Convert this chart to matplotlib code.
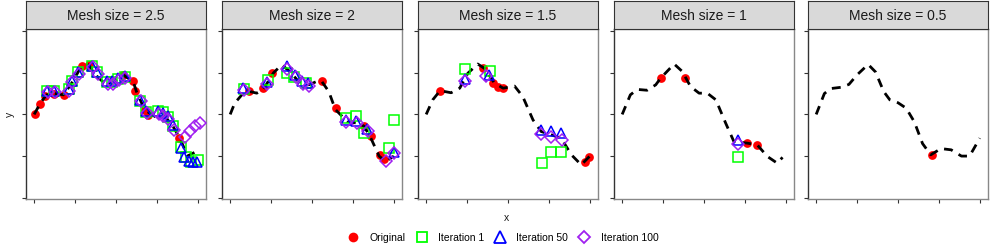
import matplotlib
matplotlib.use("Agg")
import matplotlib.pyplot as plt
from matplotlib.lines import Line2D

plt.rcParams['font.family'] = ['Liberation Sans', 'DejaVu Sans']

mesh_sizes = ["2.5", "2", "1.5", "1", "0.5"]

# dashed reference curve, one per panel
curve_x_25 = [0, 0.15, 0.3, 0.5, 0.72, 0.95, 1.15, 1.33, 1.55, 1.75, 1.95, 2.17, 2.42, 2.5, 2.7, 2.95, 3.2, 3.4, 3.56, 3.75, 4.0]
curve_y_25 = [2.0, 2.27, 2.47, 2.5, 2.47, 2.8, 3.15, 3.19, 2.9, 2.72, 2.78, 2.95, 2.79, 2.55, 2.11, 1.95, 1.95, 1.7, 1.43, 1.0, 1.13]
curve_x_2 = [0, 0.11, 0.32, 0.48, 0.65, 0.81, 1.06, 1.26, 1.47, 1.67, 1.92, 2.16, 2.24, 2.41, 2.57, 2.86, 3.11, 3.27, 3.43, 3.64, 3.8, 4.0]
curve_y_2 = [2.0, 2.27, 2.51, 2.55, 2.51, 2.6, 3.0, 3.19, 3.02, 2.79, 2.71, 2.81, 2.79, 2.55, 2.12, 1.83, 1.79, 1.72, 1.45, 1.0, 0.87, 1.0]
curve_x_15 = [0, 0.16, 0.34, 0.61, 0.82, 1.02, 1.26, 1.43, 1.67, 1.88, 2.16, 2.36, 2.61, 2.81, 3.3, 3.55, 3.79, 3.99]
curve_y_15 = [2.0, 2.35, 2.57, 2.52, 2.63, 2.99, 3.21, 3.1, 2.75, 2.63, 2.68, 2.43, 1.87, 1.59, 1.43, 1.03, 0.79, 0.99]
curve_x_1 = [0, 0.2, 0.37, 0.61, 0.82, 0.94, 1.27, 1.47, 1.67, 1.88, 2.08, 2.29, 2.53, 2.73, 3.06, 3.3, 3.55, 3.79, 3.92]
curve_y_1 = [2.0, 2.47, 2.6, 2.58, 2.71, 2.87, 3.21, 3.03, 2.67, 2.51, 2.51, 2.35, 1.79, 1.35, 1.31, 1.27, 0.99, 0.83, 0.97]
curve_x_05 = [0, 0.2, 0.35, 0.6, 0.8, 1.0, 1.27, 1.45, 1.65, 1.8, 2.0, 2.2, 2.4, 2.6, 2.8, 3.05, 3.3, 3.55, 3.75, 4.0]
curve_y_05 = [2.0, 2.5, 2.62, 2.65, 2.72, 2.95, 3.2, 3.02, 2.55, 2.35, 2.28, 2.15, 1.82, 1.3, 1.03, 1.18, 1.15, 1.0, 1.0, 1.43]

# original points
orig_x_25 = [0.03, 0.14, 0.27, 0.48, 0.72, 1.16, 1.33, 2.17, 2.42, 2.46, 2.70, 2.78, 3.55]
orig_y_25 = [2.0, 2.25, 2.44, 2.5, 2.47, 3.15, 3.19, 2.95, 2.79, 2.56, 2.11, 1.99, 1.43]
orig_x_2 = [0.47, 0.8, 1.03, 2.24, 2.59, 3.27, 3.45, 3.67, 3.75]
orig_y_2 = [2.55, 2.63, 3.0, 2.8, 2.15, 1.72, 1.49, 1.03, 0.92]
orig_x_15 = [0.34, 1.39, 1.63, 1.75, 1.88, 3.87, 3.99]
orig_y_15 = [2.57, 3.11, 2.75, 2.65, 2.63, 0.87, 0.99]
orig_x_1 = [0.94, 1.53, 3.06, 3.3]
orig_y_1 = [2.87, 2.87, 1.31, 1.27]
orig_x_05 = [2.82]
orig_y_05 = [1.03]

# iteration 1 (squares)
it1_x_25 = [0.31, 0.48, 0.84, 0.92, 1.08, 1.41, 1.53, 1.77, 1.89, 2.05, 2.21, 2.58, 2.74, 3.02, 3.14, 3.26, 3.39, 3.6, 3.72, 3.84, 4.0]
it1_y_25 = [2.57, 2.57, 2.61, 2.81, 3.01, 3.17, 3.01, 2.77, 2.77, 2.85, 2.89, 2.33, 2.05, 2.09, 2.05, 1.93, 1.73, 1.22, 0.97, 0.87, 0.9]
it1_x_2 = [0.33, 0.93, 1.38, 1.55, 1.85, 2.82, 3.07, 3.27, 3.89, 4.01]
it1_y_2 = [2.6, 2.83, 2.99, 2.9, 2.76, 1.91, 1.95, 1.55, 1.19, 1.87]
it1_x_15 = [0.94, 1.55, 2.83, 3.06, 3.29]
it1_y_15 = [3.08, 3.03, 0.83, 1.11, 1.11]
it1_x_1 = [2.83]
it1_y_1 = [0.99]

# iteration 50 (triangles)
it50_x_25 = [0.31, 0.48, 0.84, 0.92, 1.08, 1.41, 1.53, 1.77, 1.89, 2.05, 2.21, 2.58, 2.74, 3.02, 3.14, 3.26, 3.39, 3.59, 3.67, 3.79, 3.87, 3.99]
it50_y_25 = [2.57, 2.57, 2.61, 2.81, 3.01, 3.17, 3.01, 2.79, 2.79, 2.87, 2.91, 2.35, 2.07, 2.07, 2.03, 1.95, 1.75, 1.2, 0.97, 0.89, 0.87, 0.87]
it50_x_2 = [0.32, 0.89, 1.38, 1.58, 1.75, 1.9, 2.82, 3.07, 3.35, 4.01]
it50_y_2 = [2.63, 2.78, 3.15, 2.95, 2.8, 2.75, 1.87, 1.85, 1.65, 1.11]
it50_x_15 = [0.94, 1.53, 2.81, 3.06, 3.3]
it50_y_15 = [2.84, 2.95, 1.63, 1.6, 1.55]
it50_x_1 = [2.83]
it50_y_1 = [1.39]

# iteration 100 (diamonds)
it100_x_25 = [0.33, 0.5, 0.84, 0.92, 1.1, 1.43, 1.55, 1.8, 1.92, 2.07, 2.23, 2.6, 2.76, 3.04, 3.16, 3.28, 3.41, 3.68, 3.81, 3.93, 4.05]
it100_y_25 = [2.53, 2.53, 2.57, 2.77, 2.97, 3.13, 2.97, 2.73, 2.73, 2.83, 2.87, 2.31, 2.03, 2.0, 1.97, 1.9, 1.63, 1.47, 1.59, 1.71, 1.8]
it100_x_2 = [0.33, 0.9, 1.4, 1.6, 1.78, 1.92, 2.84, 3.09, 3.37, 3.82, 4.0]
it100_y_2 = [2.58, 2.73, 3.1, 2.9, 2.72, 2.68, 1.82, 1.8, 1.6, 0.88, 1.08]
it100_x_15 = [0.94, 1.47, 2.81, 3.06, 3.32]
it100_y_15 = [2.81, 2.91, 1.54, 1.46, 1.39]
it100_x_1 = [2.83]
it100_y_1 = [1.29]

panels = [
    (curve_x_25, curve_y_25, orig_x_25, orig_y_25, it1_x_25, it1_y_25, it50_x_25, it50_y_25, it100_x_25, it100_y_25),
    (curve_x_2, curve_y_2, orig_x_2, orig_y_2, it1_x_2, it1_y_2, it50_x_2, it50_y_2, it100_x_2, it100_y_2),
    (curve_x_15, curve_y_15, orig_x_15, orig_y_15, it1_x_15, it1_y_15, it50_x_15, it50_y_15, it100_x_15, it100_y_15),
    (curve_x_1, curve_y_1, orig_x_1, orig_y_1, it1_x_1, it1_y_1, it50_x_1, it50_y_1, it100_x_1, it100_y_1),
    (curve_x_05, curve_y_05, orig_x_05, orig_y_05, [], [], [], [], [], []),
]

W, H = 997, 249
fig = plt.figure(figsize=(W / 100, H / 100), dpi=100)

lefts = [26, 222, 418, 614, 808]
pw = 180
top, bottom = 29, 199

red, green, blue, purple = '#FF0000', '#00FF00', '#0000FF', '#A020F0'

for i, (cx, cy, ox, oy, ax1, ay1, ax50, ay50, ax100, ay100) in enumerate(panels):
    l = lefts[i]
    ax = fig.add_axes([l / W, (H - bottom) / H, pw / W, (bottom - top) / H])
    ax.plot(ox, oy, 'o', color=red, ms=6.3, mew=0, zorder=2)
    ax.plot(cx, cy, color='black', lw=2.0, dashes=(3.2, 2.5), dash_capstyle='butt', zorder=3)
    ax.plot(ax1, ay1, 's', mfc='none', mec=green, ms=6.5, mew=1.1, zorder=4)
    ax.plot(ax50, ay50, '^', mfc='none', mec=blue, ms=7.5, mew=1.1, zorder=5)
    ax.plot(ax100, ay100, 'D', mfc='none', mec=purple, ms=6, mew=1.1, zorder=6)
    ax.set_xlim(-0.2, 4.2)
    ax.set_ylim(-0.03, 4.05)
    ax.set_xticks([0, 1, 2, 3, 4])
    ax.set_yticks([0, 1, 2, 3, 4])
    ax.set_xticklabels([])
    ax.set_yticklabels([])
    ax.tick_params(length=3, width=0.8, color='#333333')
    for s in ['top', 'right', 'bottom']:
        ax.spines[s].set_color('#888888')
        ax.spines[s].set_linewidth(1)
    ax.spines['left'].set_color('#333333')
    ax.spines['left'].set_linewidth(1)
    # facet strip
    sax = fig.add_axes([l / W, (H - top) / H, pw / W, 28 / H])
    sax.set_facecolor('#D9D9D9')
    sax.set_xticks([])
    sax.set_yticks([])
    for s in sax.spines.values():
        s.set_color('#333333')
        s.set_linewidth(0.8)
    sax.text(0.5, 0.45, 'Mesh size = ' + mesh_sizes[i], ha='center', va='center',
             fontsize=10, color='#1A1A1A', transform=sax.transAxes)

fig.text(10 / W, 1 - 114 / H, 'y', rotation=90, ha='center', va='center', fontsize=7.5, color='#1A1A1A')
fig.text(506 / W, 1 - 218 / H, 'x', ha='center', va='center', fontsize=7.5, color='#1A1A1A')

handles = [
    Line2D([], [], ls='none', marker='o', color=red, ms=7, mew=0),
    Line2D([], [], ls='none', marker='s', mfc='none', mec=green, ms=7, mew=1.3),
    Line2D([], [], ls='none', marker='^', mfc='none', mec=blue, ms=8, mew=1.3),
    Line2D([], [], ls='none', marker='D', mfc='none', mec=purple, ms=6.5, mew=1.3),
]
labels = ['Original', 'Iteration 1', 'Iteration 50', 'Iteration 100']
fig.legend(handles, labels, loc='center', bbox_to_anchor=(502 / W, 1 - 238 / H), ncol=4,
           frameon=False, fontsize=7.5, handletextpad=0.8, columnspacing=0.8, handlelength=1.5)

fig.savefig('out.png', dpi=100)
